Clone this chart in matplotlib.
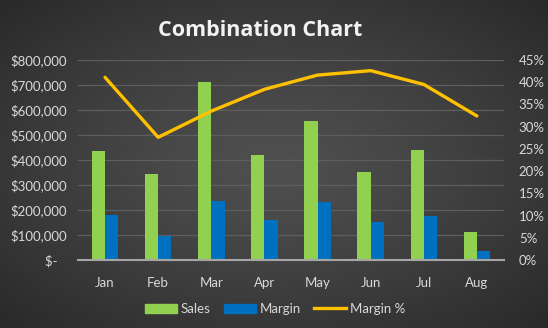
import numpy as np
import matplotlib.pyplot as plt
from matplotlib.ticker import FuncFormatter
from matplotlib.lines import Line2D
from matplotlib.patches import Patch

months = ['Jan', 'Feb', 'Mar', 'Apr', 'May', 'Jun', 'Jul', 'Aug']
sales = [436000, 344000, 712000, 420000, 556000, 352000, 440000, 112000]
margin = [180000, 96000, 236000, 160000, 232000, 152000, 176000, 36000]
margin_pct = [0.411, 0.276, 0.335, 0.384, 0.416, 0.426, 0.395, 0.324]

plt.rcParams['font.family'] = ['Lato', 'DejaVu Sans']
txt = '#d9d9d9'

fig = plt.figure(figsize=(5.48, 3.28), dpi=100)

# radial background
bg = fig.add_axes([0, 0, 1, 1], zorder=-5)
yy, xx = np.mgrid[-1:1:200j, -1:1:300j]
r = np.sqrt(xx ** 2 + yy ** 2) / np.sqrt(2)
grad = 0.31 - 0.15 * r ** 1.3
bg.imshow(np.dstack([grad] * 3), aspect='auto', extent=[0, 1, 0, 1])
bg.axis('off')

ax = fig.add_axes([0.1432, 0.2073, 0.7756, 0.6098])
ax.patch.set_alpha(0)
x = np.arange(len(months))
w = 0.25
ax.bar(x - w / 2, sales, w, color='#92D050', zorder=3, label='Sales')
ax.bar(x + w / 2, margin, w, color='#0070C0', zorder=3, label='Margin')
ax.set_xlim(-0.5, len(months) - 0.5)
ax.set_ylim(0, 800000)
ax.set_yticks(range(0, 800001, 100000))
ax.yaxis.set_major_formatter(FuncFormatter(lambda v, p: '$-   ' if v == 0 else '${:,.0f}'.format(v)))
ax.set_xticks(x)
ax.set_xticklabels(months)
ax.grid(axis='y', color='#5e5e5e', linewidth=0.9, zorder=0)
for s in ['top', 'right', 'left']:
    ax.spines[s].set_visible(False)
ax.spines['bottom'].set_color('#a6a6a6')
ax.spines['bottom'].set_linewidth(1.5)
ax.spines['bottom'].set_zorder(4)
ax.tick_params(colors=txt, labelsize=9.5, length=0, pad=12)
ax.tick_params(axis='y', pad=8)

ax2 = ax.twinx()
ax2.plot(x, margin_pct, color='#FFC000', linewidth=2.4, zorder=5, solid_capstyle='round', label='Margin %')
ax2.set_ylim(0, 0.45)
ax2.set_yticks(np.arange(0, 0.451, 0.05))
ax2.yaxis.set_major_formatter(FuncFormatter(lambda v, p: '{:.0f}%'.format(v * 100)))
for s in ['top', 'right', 'left', 'bottom']:
    ax2.spines[s].set_visible(False)
ax2.tick_params(colors=txt, labelsize=9.5, length=0, pad=11)

fig.text(0.475, 0.908, 'Combination Chart', color='#f2f2f2', fontsize=15.5,
         fontweight='bold', ha='center', va='center', family=['Open Sans', 'DejaVu Sans'])

handles = [Patch(color='#92D050'), Patch(color='#0070C0'),
           Line2D([], [], color='#FFC000', linewidth=2.4)]
fig.legend(handles, ['Sales', 'Margin', 'Margin %'], loc='center', bbox_to_anchor=(0.502, 0.058),
           ncol=3, frameon=False, fontsize=9.5, labelcolor=txt, handlelength=2.4,
           handletextpad=0.3, columnspacing=1.0)

fig.savefig('out.png', dpi=100)
